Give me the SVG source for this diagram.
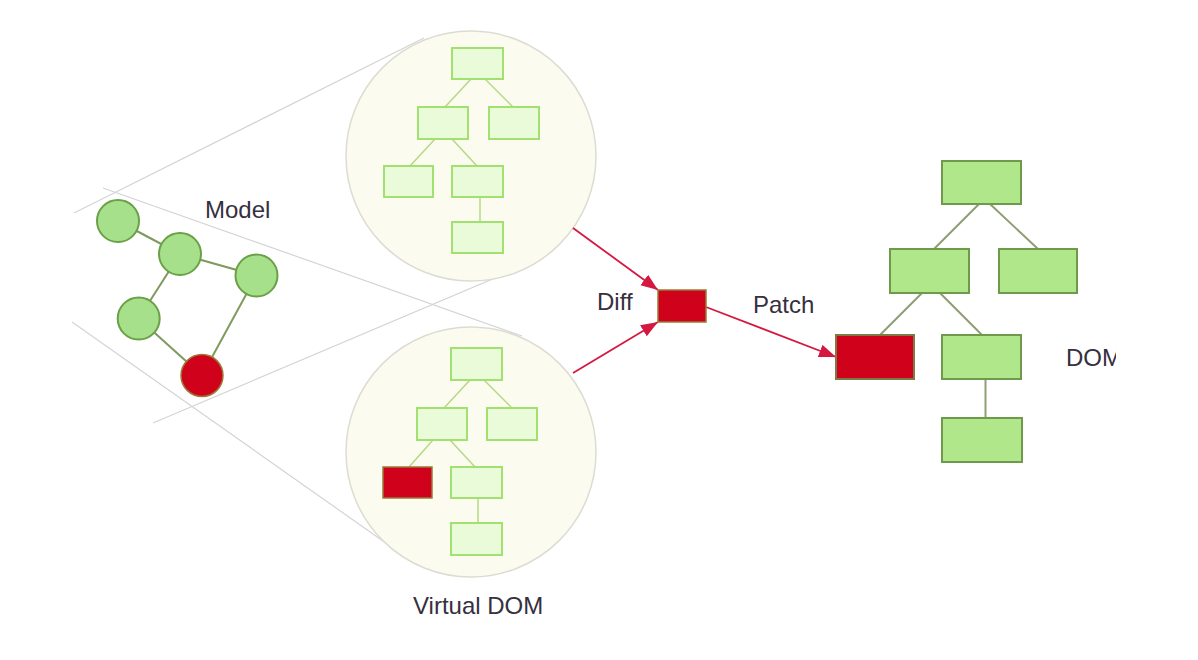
<svg xmlns="http://www.w3.org/2000/svg" width="1198" height="660" viewBox="0 0 1198 660">
<style>
text{font-family:"Liberation Sans",Arial,sans-serif;font-size:24px;fill:#363040}
.guide{stroke:#d4d4d4;stroke-width:1.2;fill:none}
.lens{fill:#fbfcef;stroke:#dcdcd2;stroke-width:1.5}
.vbox{fill:#e9fbd9;stroke:#a2e070;stroke-width:2}
.vline{stroke:#b6d884;stroke-width:1.5;fill:none}
.dbox{fill:#b0e78b;stroke:#6f9a4c;stroke-width:2}
.dline{stroke:#8e9d72;stroke-width:2;fill:none}
.mnode{fill:#a7e08b;stroke:#6aa046;stroke-width:2}
.mline{stroke:#7e9a5c;stroke-width:2;fill:none}
.red{fill:#d0021b;stroke:#9a7a3a;stroke-width:1.5}
.arrow{stroke:#d4183f;stroke-width:1.8;fill:none;marker-end:url(#ah)}
</style>
<defs>
<marker id="ah" markerUnits="userSpaceOnUse" markerWidth="18" markerHeight="14" refX="17" refY="6.5" orient="auto">
<path d="M0,0 L17,6.5 L0,13 Z" fill="#d4183f"/>
</marker>
<clipPath id="domclip"><rect x="1060" y="330" width="56" height="50"/></clipPath>
</defs>
<rect x="0" y="0" width="1198" height="660" fill="#ffffff"/>

<g id="guides">
<line class="guide" x1="74" y1="213" x2="424" y2="38"/>
<line class="guide" x1="103" y1="188" x2="522" y2="336"/>
<line class="guide" x1="72" y1="322" x2="417" y2="565"/>
<line class="guide" x1="153" y1="423" x2="542" y2="258"/>
</g>

<g id="model">
<g id="model-edges">
<line class="mline" x1="118" y1="221" x2="180" y2="254"/>
<line class="mline" x1="180" y1="254" x2="256.5" y2="275.5"/>
<line class="mline" x1="180" y1="254" x2="138.7" y2="318.5"/>
<line class="mline" x1="138.7" y1="318.5" x2="202" y2="375.5"/>
<line class="mline" x1="256.5" y1="275.5" x2="202" y2="375.5"/>
</g>
<circle id="m1" class="mnode" cx="118" cy="221" r="21"/>
<circle id="m2" class="mnode" cx="180" cy="254" r="21"/>
<circle id="m3" class="mnode" cx="256.5" cy="275.5" r="21"/>
<circle id="m4" class="mnode" cx="138.7" cy="318.5" r="21"/>
<circle id="m5" class="red" cx="202" cy="375.5" r="21"/>
<text x="205" y="218">Model</text>
</g>

<g id="vdom-old">
<circle class="lens" cx="471" cy="156" r="125"/>
<g class="vline">
<line x1="471" y1="79" x2="445" y2="107"/>
<line x1="485" y1="79" x2="513" y2="107"/>
<line x1="435" y1="139" x2="410" y2="166"/>
<line x1="452" y1="139" x2="477" y2="166"/>
<line x1="480" y1="197" x2="480" y2="222"/>
</g>
<rect class="vbox" x="452" y="48" width="51" height="31"/>
<rect class="vbox" x="418" y="107" width="50" height="32"/>
<rect class="vbox" x="489" y="107" width="50" height="32"/>
<rect class="vbox" x="384" y="166" width="49" height="31"/>
<rect class="vbox" x="452" y="166" width="51" height="31"/>
<rect class="vbox" x="452" y="222" width="51" height="31"/>
</g>

<g id="vdom-new">
<circle class="lens" cx="471" cy="452" r="125"/>
<g class="vline">
<line x1="470" y1="380" x2="444" y2="408"/>
<line x1="484" y1="380" x2="512" y2="408"/>
<line x1="433" y1="440" x2="409" y2="467"/>
<line x1="450" y1="440" x2="475" y2="467"/>
<line x1="478" y1="498" x2="478" y2="523"/>
</g>
<rect class="vbox" x="451" y="348" width="51" height="32"/>
<rect class="vbox" x="417" y="408" width="50" height="32"/>
<rect class="vbox" x="487" y="408" width="50" height="32"/>
<rect class="red" x="383" y="467" width="49" height="31"/>
<rect class="vbox" x="451" y="467" width="51" height="31"/>
<rect class="vbox" x="451" y="523" width="51" height="32"/>
<text x="413" y="614">Virtual DOM</text>
</g>

<g id="connectors">
<line class="arrow" x1="573" y1="228" x2="658" y2="290"/>
<line class="arrow" x1="573" y1="373" x2="658" y2="322"/>
<line class="arrow" x1="706" y1="307" x2="836" y2="357"/>
</g>

<g id="diff">
<rect class="red" x="658" y="290" width="48" height="32"/>
<text x="597" y="310">Diff</text>
</g>
<g id="patch-label">
<text x="753" y="313">Patch</text>
</g>

<g id="dom">
<g class="dline">
<line x1="979" y1="204" x2="934" y2="249"/>
<line x1="990" y1="204" x2="1038" y2="249"/>
<line x1="922" y1="293" x2="880" y2="335"/>
<line x1="940" y1="293" x2="982" y2="335"/>
<line x1="985.5" y1="379" x2="985.5" y2="418"/>
</g>
<rect class="dbox" x="942" y="161" width="79" height="43"/>
<rect class="dbox" x="890" y="249" width="79" height="44"/>
<rect class="dbox" x="999" y="249" width="78" height="44"/>
<rect class="red" x="836" y="335" width="78" height="44" style="stroke:#7d7a45;stroke-width:2"/>
<rect class="dbox" x="942" y="335" width="79" height="44"/>
<rect class="dbox" x="942" y="418" width="80" height="44"/>
<text x="1066" y="366" clip-path="url(#domclip)">DOM</text>
</g>
</svg>
